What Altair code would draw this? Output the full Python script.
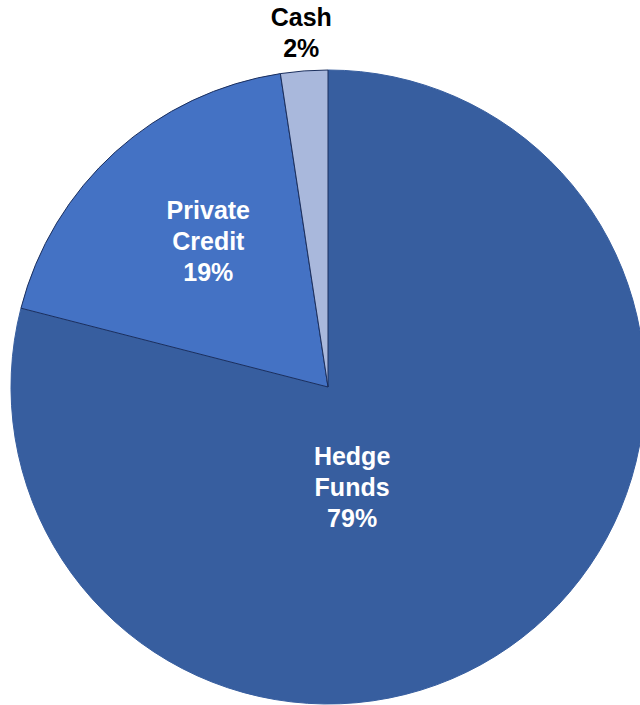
import altair as alt
import pandas as pd

# Portfolio allocation by strategy
categories = ["Hedge Funds", "Private Credit", "Cash"]
label_lines = ["Hedge\nFunds", "Private\nCredit", "Cash"]
shares = [0.790, 0.186, 0.024]
colors = ["#375E9F", "#4472C4", "#A9B8DC"]
edge_colors = ["#375E9F", "#1B2F5E", "#1B2F5E"]

df = pd.DataFrame({
    "category": categories,
    "label": label_lines,
    "share": shares,
    "order": list(range(len(categories))),
})

CX, CY, R = 328, 387, 317
LINE_H = 31
theta_scale = alt.Scale(domain=[0, 1])

base = alt.Chart(df).transform_window(
    cum="sum(share)", sort=[alt.SortField("order")]
).transform_calculate(
    start="datum.cum - datum.share",
    mid="datum.cum - datum.share / 2",
    text="datum.label + '\\n' + format(datum.share, '.0%')",
)

pie = base.mark_arc(outerRadius=R, strokeWidth=1).encode(
    theta=alt.Theta("start:Q", scale=theta_scale),
    theta2="cum:Q",
    color=alt.Color("category:N", scale=alt.Scale(domain=categories, range=colors), legend=None),
    stroke=alt.Stroke("category:N", scale=alt.Scale(domain=categories, range=edge_colors), legend=None),
    order=alt.Order("order:Q"),
    x=alt.value(CX),
    y=alt.value(CY),
)

# label placement: (category, radius, angular offset, colour, line count)
label_specs = [
    ("Hedge Funds", 104, 0.426, "white", 3),
    ("Private Credit", 188, 0.045, "white", 3),
    ("Cash", 355, 0.0, "black", 2),
]

layers = [pie]
for cat, rad, off, col, n_lines in label_specs:
    layers.append(
        base.transform_filter(alt.datum.category == cat).mark_text(
            radius=rad, thetaOffset=off, font="Liberation Sans", fontWeight="bold",
            fontSize=25, lineHeight=LINE_H, color=col, align="center", baseline="middle",
            lineBreak="\n", dy=-(n_lines - 1) * LINE_H / 2,
        ).encode(
            theta=alt.Theta("mid:Q", scale=theta_scale),
            text="text:N",
            x=alt.value(CX),
            y=alt.value(CY),
        )
    )

chart = alt.layer(*layers).properties(
    width=640, height=705, padding=0, autosize=alt.AutoSizeParams(type="none"),
    background="white",
).configure_view(stroke=None)

chart.save("out.html", embed_options={"renderer": "svg", "actions": False})
